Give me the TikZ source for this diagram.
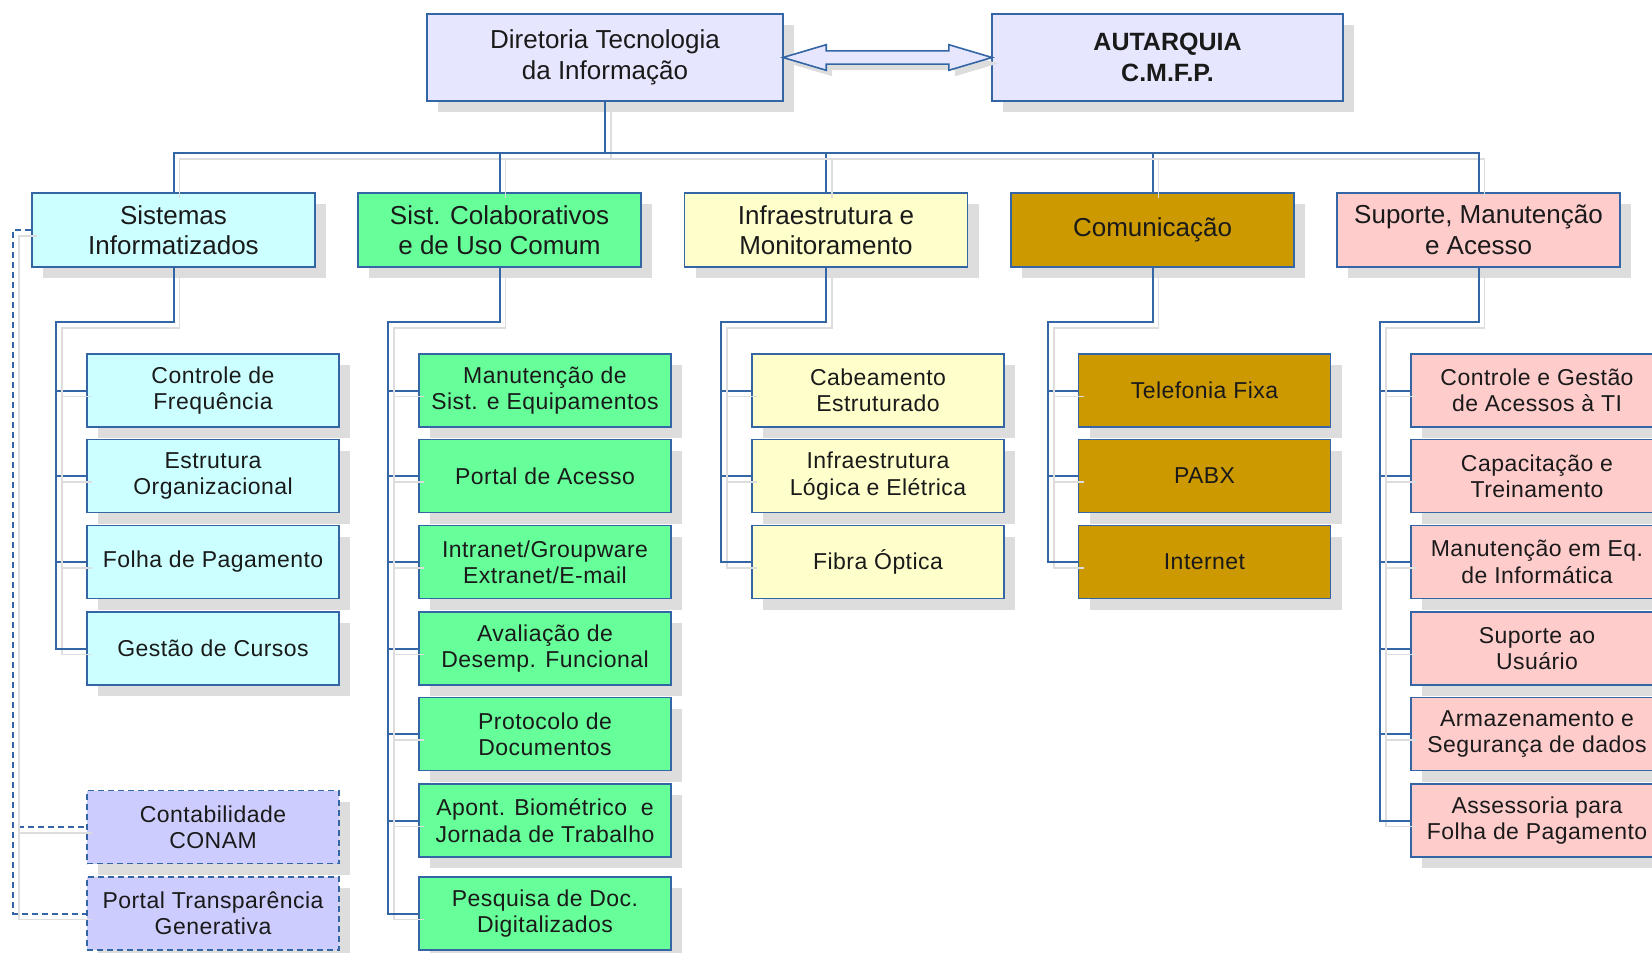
\documentclass[tikz,border=0pt]{standalone}
\usepackage{fontspec}
\setmainfont{Liberation Sans}
\usetikzlibrary{shapes.arrows, shadows, calc}

\definecolor{linecol}{RGB}{52,101,164}
\definecolor{shadowgray}{RGB}{221,221,221}
\definecolor{topfill}{RGB}{230,230,255}
\definecolor{cyanfill}{RGB}{204,255,255}
\definecolor{greenfill}{RGB}{102,255,153}
\definecolor{yellowfill}{RGB}{255,255,204}
\definecolor{goldfill}{RGB}{204,153,0}
\definecolor{pinkfill}{RGB}{255,204,204}
\definecolor{lilacfill}{RGB}{204,204,255}
\definecolor{txtcol}{RGB}{26,26,26}

\begin{document}
\begin{tikzpicture}[x=0.5pt, y=-0.5pt,
          % Base node styles
          box/.style={rectangle, draw=linecol, line width=0.9pt, align=center, text=txtcol, inner sep=2pt,
            drop shadow={shadow xshift=5.5pt, shadow yshift=-5.5pt, fill=shadowgray, opacity=1}},
          topbox/.style={box, fill=topfill, minimum width=178pt, minimum height=43.5pt, font=\fontsize{13pt}{15.3pt}\selectfont},
          areabox/.style={box, minimum width=141.5pt, minimum height=37pt, font=\fontsize{13pt}{15.25pt}\selectfont},
          itembox/.style={box, minimum width=126pt, minimum height=36.5pt, font=\fontsize{11.5pt}{13.2pt}\selectfont\addfontfeature{LetterSpace=2}},
          % Boxes of the external systems (dashed)
          extbox/.style={itembox, fill=lilacfill, dash pattern=on 3pt off 2pt},
          % Arrow styles
          arrowlink/.style={double arrow, draw=linecol, line width=0.8pt, fill=topfill, inner sep=2.9pt,
            double arrow head extend=3.1pt, double arrow tip angle=33, minimum height=104.5pt,
            drop shadow={shadow xshift=3pt, shadow yshift=-3pt, fill=shadowgray, opacity=1}},
          link/.style={draw=linecol, line width=1pt,
            preaction={draw=shadowgray, line width=0.9pt, transform canvas={xshift=3pt, yshift=-3pt}}},
          extlink/.style={link, dash pattern=on 3pt off 2pt}
        ]
          \useasboundingbox (0,0) rectangle (1652,952);
          % ==========================================
          % 1. Top Section: Direction
          % ==========================================
          \node[topbox] (diretoria) at (605,57.5) {Diretoria Tecnologia\\da Informação};
          \node[topbox, minimum width=175.5pt, font=\fontsize{12.5pt}{15.3pt}\selectfont\bfseries] (autarquia) at (1167.5,57.5) {AUTARQUIA\\C.M.F.P.};
          \node[arrowlink] (dir_aut) at ($(diretoria.east)!0.5!(autarquia.west)$) {};

          % ==========================================
          % 2. Middle Section: Areas
          % ==========================================
          \node[areabox, fill=cyanfill] (sistemas) at (173.5,230) {Sistemas\\Informatizados};
          \node[areabox, fill=greenfill] (colaborativos) at (499.5,230) {Sist. Colaborativos\\e de Uso Comum};
          \node[areabox, fill=yellowfill] (infra) at (826,230) {Infraestrutura e\\Monitoramento};
          \node[areabox, fill=goldfill] (comunicacao) at (1152.5,230) {Comunicação};
          \node[areabox, fill=pinkfill] (suporte) at (1478.5,230) {Suporte, Manutenção\\e Acesso};

          % ==========================================
          % 3. Bottom Section: Services
          % ==========================================
          % Sistemas Informatizados
          \node[itembox, fill=cyanfill] (sis_freq) at (213,390.5) {Controle de\\Frequência};
          \node[itembox, fill=cyanfill] (sis_estrutura) at (213,476) {Estrutura\\Organizacional};
          \node[itembox, fill=cyanfill] (sis_folha) at (213,562) {Folha de Pagamento};
          \node[itembox, fill=cyanfill] (sis_cursos) at (213,648.5) {Gestão de Cursos};
          \node[extbox] (conam) at (213,827) {Contabilidade\\CONAM};
          \node[extbox] (transparencia) at (213,913.5) {Portal Transparência\\Generativa};

          % Sist. Colaborativos
          \node[itembox, fill=greenfill] (col_manut) at (545,390.5) {Manutenção de\\Sist. e Equipamentos};
          \node[itembox, fill=greenfill] (col_portal) at (545,476) {Portal de Acesso};
          \node[itembox, fill=greenfill] (col_intranet) at (545,562) {Intranet/Groupware\\Extranet/E-mail};
          \node[itembox, fill=greenfill] (col_avaliacao) at (545,648.5) {Avaliação de\\Desemp. Funcional};
          \node[itembox, fill=greenfill] (col_protocolo) at (545,734) {Protocolo de\\Documentos};
          \node[itembox, fill=greenfill] (col_biometrico) at (545,820.5) {Apont. Biométrico\ \ e\\Jornada de Trabalho};
          \node[itembox, fill=greenfill] (col_pesquisa) at (545,913.5) {Pesquisa de Doc.\\Digitalizados};

          % Infraestrutura
          \node[itembox, fill=yellowfill] (inf_cabeamento) at (878,390.5) {Cabeamento\\Estruturado};
          \node[itembox, fill=yellowfill] (inf_logica) at (878,476) {Infraestrutura\\Lógica e Elétrica};
          \node[itembox, fill=yellowfill] (inf_fibra) at (878,562) {Fibra Óptica};

          % Comunicacao
          \node[itembox, fill=goldfill] (com_telefonia) at (1204.5,390.5) {Telefonia Fixa};
          \node[itembox, fill=goldfill] (com_pabx) at (1204.5,476) {PABX};
          \node[itembox, fill=goldfill] (com_internet) at (1204.5,562) {Internet};

          % Suporte
          \node[itembox, fill=pinkfill] (sup_acessos) at (1537,390.5) {Controle e Gestão\\de Acessos à TI};
          \node[itembox, fill=pinkfill] (sup_capacitacao) at (1537,476) {Capacitação e\\Treinamento};
          \node[itembox, fill=pinkfill] (sup_manutencao) at (1537,562) {Manutenção em Eq.\\de Informática};
          \node[itembox, fill=pinkfill] (sup_usuario) at (1537,648.5) {Suporte ao\\Usuário};
          \node[itembox, fill=pinkfill] (sup_armazenamento) at (1537,734) {Armazenamento e\\Segurança de dados};
          \node[itembox, fill=pinkfill] (sup_folha) at (1537,820.5) {Assessoria para\\Folha de Pagamento};

          % ==========================================
          % 4. Edges & Flow Routing
          % ==========================================
          \coordinate (bus) at (605,153);
          \draw[link] (diretoria.south) -- (bus);
          \draw[link] (bus) -| (sistemas.north);
          \draw[link] (bus) -| (colaborativos.north);
          \draw[link] (bus) -| (infra.north);
          \draw[link] (bus) -| (comunicacao.north);
          \draw[link] (bus) -| (suporte.north);

          % Sistemas Informatizados
          \draw[link] (sistemas.south) -- ++(0,54) -| ([xshift=-15pt]sis_freq.west) -- (sis_freq.west);
          \draw[link] (sistemas.south) -- ++(0,54) -| ([xshift=-15pt]sis_estrutura.west) -- (sis_estrutura.west);
          \draw[link] (sistemas.south) -- ++(0,54) -| ([xshift=-15pt]sis_folha.west) -- (sis_folha.west);
          \draw[link] (sistemas.south) -- ++(0,54) -| ([xshift=-15pt]sis_cursos.west) -- (sis_cursos.west);
          \draw[extlink] (sistemas.west) -- ++(-18,0) |- (conam.west);
          \draw[extlink] (sistemas.west) -- ++(-18,0) |- (transparencia.west);

          % Sist. Colaborativos
          \draw[link] (colaborativos.south) -- ++(0,54) -| ([xshift=-15pt]col_manut.west) -- (col_manut.west);
          \draw[link] (colaborativos.south) -- ++(0,54) -| ([xshift=-15pt]col_portal.west) -- (col_portal.west);
          \draw[link] (colaborativos.south) -- ++(0,54) -| ([xshift=-15pt]col_intranet.west) -- (col_intranet.west);
          \draw[link] (colaborativos.south) -- ++(0,54) -| ([xshift=-15pt]col_avaliacao.west) -- (col_avaliacao.west);
          \draw[link] (colaborativos.south) -- ++(0,54) -| ([xshift=-15pt]col_protocolo.west) -- (col_protocolo.west);
          \draw[link] (colaborativos.south) -- ++(0,54) -| ([xshift=-15pt]col_biometrico.west) -- (col_biometrico.west);
          \draw[link] (colaborativos.south) -- ++(0,54) -| ([xshift=-15pt]col_pesquisa.west) -- (col_pesquisa.west);

          % Infraestrutura
          \draw[link] (infra.south) -- ++(0,54) -| ([xshift=-15pt]inf_cabeamento.west) -- (inf_cabeamento.west);
          \draw[link] (infra.south) -- ++(0,54) -| ([xshift=-15pt]inf_logica.west) -- (inf_logica.west);
          \draw[link] (infra.south) -- ++(0,54) -| ([xshift=-15pt]inf_fibra.west) -- (inf_fibra.west);

          % Comunicacao
          \draw[link] (comunicacao.south) -- ++(0,54) -| ([xshift=-15pt]com_telefonia.west) -- (com_telefonia.west);
          \draw[link] (comunicacao.south) -- ++(0,54) -| ([xshift=-15pt]com_pabx.west) -- (com_pabx.west);
          \draw[link] (comunicacao.south) -- ++(0,54) -| ([xshift=-15pt]com_internet.west) -- (com_internet.west);

          % Suporte
          \draw[link] (suporte.south) -- ++(0,54) -| ([xshift=-15pt]sup_acessos.west) -- (sup_acessos.west);
          \draw[link] (suporte.south) -- ++(0,54) -| ([xshift=-15pt]sup_capacitacao.west) -- (sup_capacitacao.west);
          \draw[link] (suporte.south) -- ++(0,54) -| ([xshift=-15pt]sup_manutencao.west) -- (sup_manutencao.west);
          \draw[link] (suporte.south) -- ++(0,54) -| ([xshift=-15pt]sup_usuario.west) -- (sup_usuario.west);
          \draw[link] (suporte.south) -- ++(0,54) -| ([xshift=-15pt]sup_armazenamento.west) -- (sup_armazenamento.west);
          \draw[link] (suporte.south) -- ++(0,54) -| ([xshift=-15pt]sup_folha.west) -- (sup_folha.west);
        \end{tikzpicture}
\end{document}
